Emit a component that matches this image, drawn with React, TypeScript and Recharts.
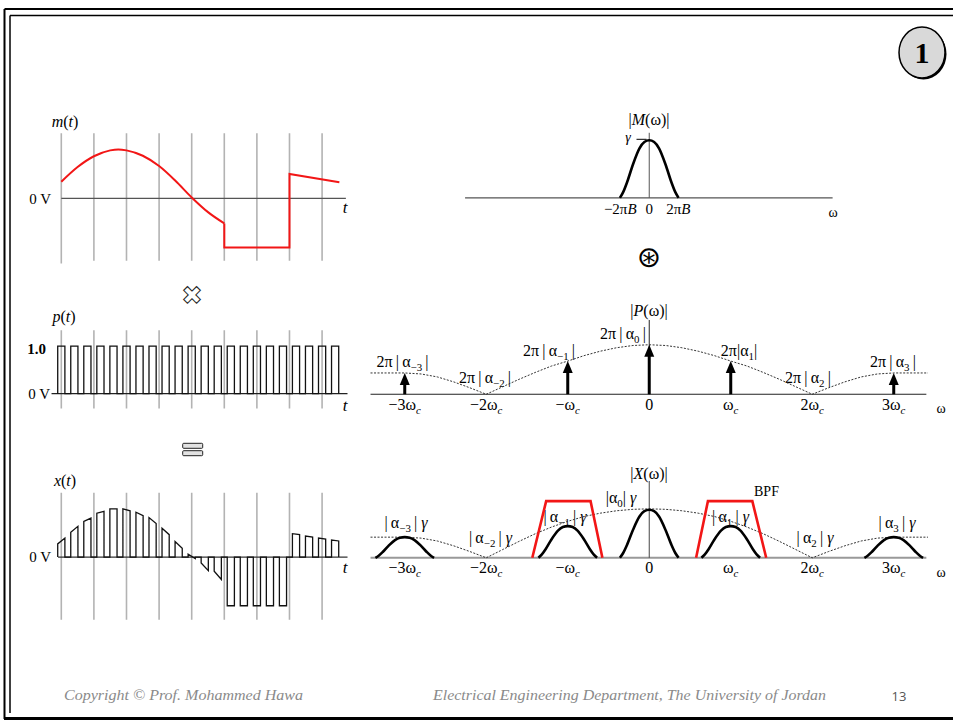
import React from 'react';
import { ComposedChart, Line, Scatter, XAxis, YAxis } from 'recharts';

const SERIF = '"Liberation Serif", "Times New Roman", serif';
const TH = '\u2009';

// ---------------- time-domain data ----------------
const gridTimes = [0, 1, 2, 3, 4, 5, 6, 7, 8];
const mSmoothT = [0, 0.5, 1, 1.5, 1.75, 2, 2.5, 3, 3.5, 4, 4.5, 5];
const mSmoothV = [0.34, 0.64, 0.86, 0.98, 1.0, 0.98, 0.87, 0.66, 0.36, 0.02, -0.28, -0.51];
const mStepT = [5, 5, 7, 7, 8.53];
const mStepV = [-0.51, -1, -1, 0.5, 0.33];
const pulseStarts = [-0.11, 0.29, 0.69, 1.09, 1.49, 1.89, 2.29, 2.69, 3.09, 3.49, 3.89, 4.29, 4.69, 5.09, 5.49, 5.89, 6.29, 6.69, 7.09, 7.49, 7.89, 8.29];
const pulseWidth = 0.22;
const xTopStart = [0.27, 0.51, 0.73, 0.9, 0.99, 0.99, 0.92, 0.81, 0.59, 0.32, 0.06, -0.12, -0.29, -1, -1, -1, -1, -1, 0.48, 0.43, 0.39, 0.35];
const xTopEnd = [0.39, 0.63, 0.8, 0.94, 0.99, 0.95, 0.85, 0.69, 0.46, 0.18, -0.03, -0.28, -0.46, -1, -1, -1, -1, -1, 0.46, 0.41, 0.37, 0.33];

// ---------------- frequency-domain data ----------------
const harmonics = [-3, -1, 0, 1, 3];
const pImpulse = [0.43, 0.67, 1.0, 0.67, 0.43];
const xBellPeak = [0.43, 0.66, 1.0, 0.66, 0.43];
const mBellPeak = 1.0;
const bellOffsets = [-0.36, -0.32, -0.27, -0.2, -0.12, -0.06, 0, 0.06, 0.12, 0.2, 0.27, 0.32, 0.36];
const bellShape = [0, 0.1, 0.28, 0.58, 0.86, 0.97, 1, 0.97, 0.86, 0.58, 0.28, 0.1, 0];
const envW = [-3.42, -3, -2.8, -2.6, -2.4, -2.2, -2, -1.8, -1.6, -1.4, -1.2, -1, -0.8, -0.6, -0.4, -0.2, 0, 0.2, 0.4, 0.6, 0.8, 1, 1.2, 1.4, 1.6, 1.8, 2, 2.2, 2.4, 2.6, 2.8, 3, 3.42];
const pEnvV = [0.43, 0.43, 0.41, 0.35, 0.25, 0.13, 0, 0.15, 0.3, 0.44, 0.57, 0.67, 0.78, 0.87, 0.94, 0.985, 1.0, 0.985, 0.94, 0.87, 0.78, 0.67, 0.57, 0.44, 0.3, 0.15, 0, 0.13, 0.25, 0.35, 0.41, 0.43, 0.43];
const xEnvV = [0.43, 0.43, 0.41, 0.35, 0.25, 0.13, 0, 0.17, 0.34, 0.5, 0.64, 0.76, 0.86, 0.93, 0.98, 1.01, 1.02, 1.01, 0.98, 0.93, 0.86, 0.76, 0.64, 0.5, 0.34, 0.17, 0, 0.13, 0.25, 0.35, 0.41, 0.43, 0.43];
const bpfLeftW = [-1.435, -1.265, -0.72, -0.575];
const bpfRightW = [0.575, 0.72, 1.265, 1.435];
const bpfV = [0, 1.18, 1.18, 0];

type Part = string | { t: string; sub?: boolean; it?: boolean };
const cSub: Part = { t: 'c', sub: true, it: true };
const omegaTicks = [-3, -2, -1, 0, 1, 2, 3];
const omegaTickLabels: Part[][] = [['−3ω', cSub], ['−2ω', cSub], ['−ω', cSub], ['0'], ['ω', cSub], ['2ω', cSub], ['3ω', cSub]];
const mTicks = [-0.356, 0, 0.356];
const mTickLabels: Part[][] = [['−2π', { t: 'B', it: true }], ['0'], ['2π', { t: 'B', it: true }]];

// ---------------- helpers ----------------
function Txt({ x, y, parts, size = 15, anchor = 'middle', fill = '#000', weight, family = SERIF, italic, textLength }: any) {
  let shift = 0;
  const spans = parts.map((p: Part, i: number) => {
    const o = typeof p === 'string' ? { t: p } : p;
    const target = o.sub ? size * 0.28 : 0;
    const dy = target - shift;
    shift = target;
    return (
      <tspan key={i} dy={dy} fontSize={o.sub ? size * 0.68 : size} fontStyle={o.it ? 'italic' : undefined}>
        {o.t}
      </tspan>
    );
  });
  return (
    <text x={x} y={y} textAnchor={anchor} fontFamily={family} fontSize={size} fill={fill} fontWeight={weight}
      fontStyle={italic ? 'italic' : undefined} textLength={textLength}
      lengthAdjust={textLength ? 'spacingAndGlyphs' : undefined} style={{ whiteSpace: 'pre' }}>
      {spans}
    </text>
  );
}

const seg = (xs: number[], ys: number[]) => xs.map((x, i) => ({ x, y: ys[i] }));
const vlines = (xs: number[], y0: number[], y1: number[]) =>
  xs.flatMap((x, i) => [{ x, y: y0[i] }, { x, y: y1[i] }, { x, y: null as any }]);

const pulseTrain = (starts: number[], w: number, topA: number[], topB: number[]) =>
  starts.flatMap((s, i) => [{ x: s, y: 0 }, { x: s, y: topA[i] }, { x: s + w, y: topB[i] }, { x: s + w, y: 0 }]);

const bells = (centers: number[], peaks: number[]) =>
  centers.flatMap((c, i) => [...bellOffsets.map((o, j) => ({ x: c + o, y: bellShape[j] * peaks[i] })), { x: c, y: null as any }]);

function Panel({ left, top, width, plotHeight, axisHeight = 0, xDomain, yDomain, ticks, tickLabels, tickDy = 15.5, tickSize = 16, children }: any) {
  const h = plotHeight + axisHeight;
  const renderTick = (props: any) => {
    const { x, y, payload } = props;
    const idx = ticks ? ticks.indexOf(payload.value) : -1;
    const lab = idx >= 0 ? tickLabels[idx] : [''];
    return <Txt x={x} y={y + tickDy} parts={lab} size={tickSize} />;
  };
  return (
    <div style={{ position: 'absolute', left, top, width, height: h }}>
      <ComposedChart width={width} height={h} margin={{ top: 0, right: 0, bottom: 0, left: 0 }}>
        <XAxis type="number" dataKey="x" domain={xDomain} hide={!ticks} ticks={ticks} interval={0}
          tick={ticks ? renderTick : false} axisLine={false} tickLine={false} tickSize={0} tickMargin={0}
          height={axisHeight || 1} />
        <YAxis type="number" dataKey="y" domain={yDomain} hide width={0} />
        {children}
      </ComposedChart>
    </div>
  );
}

const L = (props: any) => (
  <Line dataKey="y" dot={false} activeDot={false} isAnimationActive={false} legendType="none" connectNulls={false} type="linear" {...props} />
);

const arrowHead = (props: any) => {
  const { cx, cy } = props;
  return <path d={`M${cx},${cy} L${cx - 5},${cy + 12} L${cx + 5},${cy + 12} Z`} fill="#000" />;
};

// geometry
const T_PX = 32.6;
const T0_PX = 61.7;
const tDom: [number, number] = [-0.5, 9.0];
const tLeft = T0_PX + tDom[0] * T_PX;
const tWidth = (tDom[1] - tDom[0]) * T_PX;

const W_PX = 81.5;
const W0_PX = 649.5;
const wDom: [number, number] = [-3.5, 3.6];
const wLeft = W0_PX + wDom[0] * W_PX;
const wWidth = (wDom[1] - wDom[0]) * W_PX;

const GRID = '#b3b3b3';
const LS = 16;

const pLab = (sub: string, spaced: boolean): Part[] =>
  spaced ? [`2π${TH}|${TH}α`, { t: sub, sub: true }, `${TH}|`] : ['2π|α', { t: sub, sub: true }, '|'];
const xLab = (sub: string, spaced: boolean): Part[] =>
  spaced ? [`|${TH}α`, { t: sub, sub: true }, `${TH}|`, { t: ' γ', it: true }] : ['|α', { t: sub, sub: true }, '|', { t: ' γ', it: true }];

export default function App() {
  return (
    <div style={{ position: 'absolute', left: 0, top: 0, width: 953, height: 722, background: '#fff', overflow: 'hidden' }}>
      <svg width={953} height={722} style={{ position: 'absolute', left: 0, top: 0 }}>
        {/* frame */}
        <line x1={4.5} y1={9} x2={953} y2={9} stroke="#000" strokeWidth={2} />
        <line x1={4.5} y1={9} x2={4.5} y2={719} stroke="#000" strokeWidth={2} />
        <line x1={10} y1={15.5} x2={953} y2={15.5} stroke="#000" strokeWidth={1.5} />
        <line x1={10} y1={15.5} x2={10} y2={713} stroke="#000" strokeWidth={1.5} />
        <line x1={4} y1={718.5} x2={953} y2={718.5} stroke="#000" strokeWidth={3} />
        {/* slide number */}
        <ellipse cx={923.5} cy={54} rx={23} ry={25.5} fill="#000" />
        <ellipse cx={922} cy={52.5} rx={23} ry={25.5} fill="#d9d9d9" stroke="#000" strokeWidth={1.5} />
        <Txt x={922} y={63} parts={['1']} size={30} weight="bold" />

        {/* time-domain labels */}
        <Txt x={65} y={127} parts={[{ t: 'm', it: true }, '(', { t: 't', it: true }, ')']} size={16} />
        <Txt x={51} y={204} parts={['0 V']} size={15} anchor="end" />
        <Txt x={345} y={213} parts={[{ t: 't', it: true }]} size={17} />

        <text x={192} y={304} textAnchor="middle" fontFamily="DejaVu Sans" fontSize={25} fill="#fff" stroke="#222" strokeWidth={1}>✖</text>

        <Txt x={64} y={322} parts={[{ t: 'p', it: true }, '(', { t: 't', it: true }, ')']} size={16} />
        <Txt x={46} y={354} parts={['1.0']} size={15} anchor="end" weight="bold" />
        <Txt x={50} y={399} parts={['0 V']} size={15} anchor="end" />
        <Txt x={345} y={411} parts={[{ t: 't', it: true }]} size={17} />

        <rect x={182.7} y={443.3} width={20} height={5} rx={1} fill="#e2e2e2" stroke="#222" strokeWidth={1} />
        <rect x={182.7} y={450.7} width={20} height={5} rx={1} fill="#e2e2e2" stroke="#222" strokeWidth={1} />

        <Txt x={65} y={486} parts={[{ t: 'x', it: true }, '(', { t: 't', it: true }, ')']} size={16} />
        <Txt x={51} y={562} parts={['0 V']} size={15} anchor="end" />
        <Txt x={345} y={573} parts={[{ t: 't', it: true }]} size={17} />

        {/* M */}
        <Txt x={649} y={125} parts={['|', { t: 'M', it: true }, '(ω)|']} size={16} />
        <Txt x={628} y={142} parts={[{ t: 'γ', it: true }]} size={14} />
        <line x1={636.5} y1={139.3} x2={646.5} y2={139.3} stroke="#000" strokeWidth={1} />
        <Txt x={833} y={217} parts={['ω']} size={14} />
        <text x={649} y={267} textAnchor="middle" fontFamily="DejaVu Sans" fontSize={29} fill="#000">⊛</text>

        {/* P */}
        <Txt x={649} y={316} parts={['|', { t: 'P', it: true }, '(ω)|']} size={16} />
        <Txt x={623} y={339} parts={pLab('0', true)} size={LS} />
        <Txt x={549} y={355.5} parts={pLab('−1', true)} size={LS} />
        <Txt x={739} y={355.5} parts={pLab('1', false)} size={LS} />
        <Txt x={402.5} y={366.5} parts={pLab('−3', true)} size={LS} />
        <Txt x={893} y={366.5} parts={pLab('3', true)} size={LS} />
        <Txt x={485} y={382.5} parts={pLab('−2', true)} size={LS} />
        <Txt x={808} y={382.5} parts={pLab('2', true)} size={LS} />
        <Txt x={941} y={413} parts={['ω']} size={14} />

        {/* X */}
        <Txt x={649} y={479} parts={['|', { t: 'X', it: true }, '(ω)|']} size={16} />
        <Txt x={766.5} y={496} parts={['BPF']} size={14} />
        <Txt x={621} y={502.5} parts={xLab('0', false)} size={LS} />
        <Txt x={565} y={521.5} parts={xLab('−1', true)} size={LS} />
        <Txt x={730.5} y={521.5} parts={xLab('1', true)} size={LS} />
        <Txt x={406} y={527.5} parts={xLab('−3', true)} size={LS} />
        <Txt x={897} y={527.5} parts={xLab('3', true)} size={LS} />
        <Txt x={490.5} y={542.5} parts={xLab('−2', true)} size={LS} />
        <Txt x={815} y={542.5} parts={xLab('2', true)} size={LS} />
        <Txt x={941} y={577} parts={['ω']} size={14} />

        {/* footer */}
        <Txt x={64} y={700} parts={['Copyright © Prof. Mohammed Hawa']} size={15} anchor="start" italic fill="#8a8a8a" textLength={239} />
        <Txt x={433} y={700} parts={['Electrical Engineering Department, The University of Jordan']} size={15} anchor="start" italic fill="#8a8a8a" textLength={393} />
        <Txt x={899} y={701} parts={['13']} size={13} family='"Open Sans", sans-serif' fill="#555" />
      </svg>

      {/* m(t) */}
      <Panel left={tLeft} top={198.3 - 1.6 * 49} width={tWidth} plotHeight={3.2 * 49} xDomain={tDom} yDomain={[-1.6, 1.6]}>
        <L data={vlines(gridTimes, gridTimes.map(() => 1.33), gridTimes.map((t) => (t === 0 ? -1.33 : -1.27)))} stroke={GRID} strokeWidth={1.6} />
        <L data={seg([0, 8.73], [0, 0])} stroke="#555" strokeWidth={1.3} />
        <L data={seg(mSmoothT, mSmoothV)} type="monotone" stroke="#f21616" strokeWidth={2} />
        <L data={seg(mStepT, mStepV)} stroke="#f21616" strokeWidth={2} />
      </Panel>

      {/* p(t) */}
      <Panel left={tLeft} top={393.3 - 1.4 * 47.6} width={tWidth} plotHeight={1.8 * 47.6} xDomain={tDom} yDomain={[-0.4, 1.4]}>
        <L data={vlines(gridTimes, gridTimes.map(() => 1.33), gridTimes.map(() => -0.31))} stroke={GRID} strokeWidth={1.6} />
        <L data={seg([-0.3, 8.78], [0, 0])} stroke="#222" strokeWidth={1.2} />
        <L data={pulseTrain(pulseStarts, pulseWidth, pulseStarts.map(() => 1), pulseStarts.map(() => 1))} stroke="#111" strokeWidth={1.3} />
      </Panel>

      {/* x(t) */}
      <Panel left={tLeft} top={557.3 - 1.5 * 48.7} width={tWidth} plotHeight={3 * 48.7} xDomain={tDom} yDomain={[-1.5, 1.5]}>
        <L data={vlines(gridTimes, gridTimes.map(() => 1.32), gridTimes.map(() => -1.29))} stroke={GRID} strokeWidth={1.6} />
        <L data={seg([-0.1, 8.78], [0, 0])} stroke="#333" strokeWidth={1.2} />
        <L data={pulseTrain(pulseStarts, pulseWidth, xTopStart, xTopEnd)} stroke="#111" strokeWidth={1.3} />
      </Panel>

      {/* |M(w)| */}
      <Panel left={wLeft} top={198.3 - 1.3 * 57.6} width={wWidth} plotHeight={1.3 * 57.6} axisHeight={24}
        xDomain={wDom} yDomain={[0, 1.3]} ticks={mTicks} tickLabels={mTickLabels} tickDy={16} tickSize={15}>
        <L data={seg([-2.26, 2.25], [0, 0])} stroke="#555" strokeWidth={1.2} />
        <L data={seg([0, 0], [0, 1.13])} stroke="#555" strokeWidth={1} />
        <L data={bells([0], [mBellPeak])} type="monotone" stroke="#000" strokeWidth={2.6} />
      </Panel>

      {/* |P(w)| */}
      <Panel left={wLeft} top={394.3 - 1.5 * 49.5} width={wWidth} plotHeight={1.5 * 49.5} axisHeight={24}
        xDomain={wDom} yDomain={[0, 1.5]} ticks={omegaTicks} tickLabels={omegaTickLabels} tickDy={15.5}>
        <L data={seg([-3.42, 3.4], [0, 0])} stroke="#222" strokeWidth={1.1} />
        <L data={seg([0, 0], [0, 1.5])} stroke="#222" strokeWidth={1} />
        <L data={seg(envW, pEnvV)} stroke="#333" strokeWidth={1} strokeDasharray="2 1.5" />
        <L data={vlines(harmonics, harmonics.map(() => 0), pImpulse.map((v) => v - 0.15))} stroke="#000" strokeWidth={3} />
        <Scatter data={seg(harmonics, pImpulse)} shape={arrowHead} isAnimationActive={false} legendType="none" />
      </Panel>

      {/* |X(w)| */}
      <Panel left={wLeft} top={557.3 - 1.6 * 48} width={wWidth} plotHeight={1.6 * 48} axisHeight={24}
        xDomain={wDom} yDomain={[0, 1.6]} ticks={omegaTicks} tickLabels={omegaTickLabels} tickDy={15}>
        <L data={seg([-3.42, 3.4], [0, 0])} stroke="#999" strokeWidth={2} />
        <L data={seg([0, 0], [0, 1.6])} stroke="#444" strokeWidth={1} />
        <L data={seg(envW, xEnvV)} stroke="#333" strokeWidth={1} strokeDasharray="2 1.5" />
        <L data={bells(harmonics, xBellPeak)} type="monotone" stroke="#000" strokeWidth={2.6} />
        <L data={seg(bpfLeftW, bpfV)} stroke="#f21616" strokeWidth={2.6} />
        <L data={seg(bpfRightW, bpfV)} stroke="#f21616" strokeWidth={2.6} />
      </Panel>
    </div>
  );
}
